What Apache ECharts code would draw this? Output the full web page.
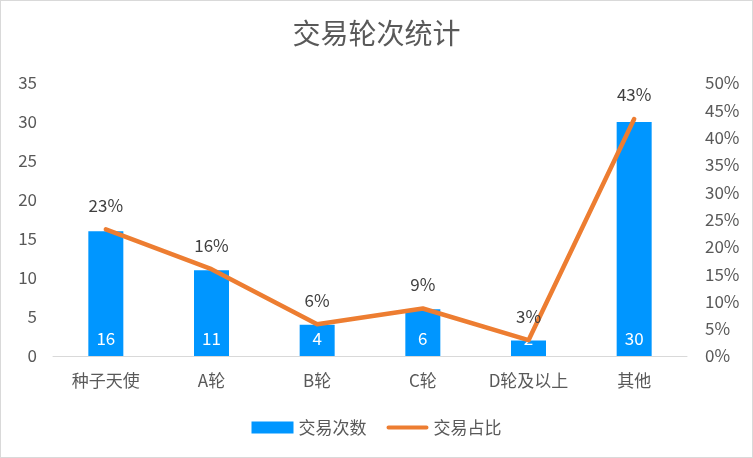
<!DOCTYPE html>
<html><head><meta charset="utf-8">
<script src="https://cdn.jsdelivr.net/npm/echarts@6/dist/echarts.min.js"></script>
<style>html,body{margin:0;padding:0;background:#fff}#c{width:753px;height:458px;box-sizing:border-box;border:1px solid #d9d9d9}</style>
</head><body><div id="c"></div>
<script>
var categories = ['种子天使','A轮','B轮','C轮','D轮及以上','其他'];
var counts = [16, 11, 4, 6, 2, 30];
var shares = [0.232, 0.159, 0.058, 0.087, 0.029, 0.434];
var leftTicks = {min:0, max:35, interval:5};
var rightTicks = {min:0, max:0.5, interval:0.05};

var font = '"Noto Sans CJK SC", "Microsoft YaHei", sans-serif';
var chart = echarts.init(document.getElementById('c'));
chart.setOption({
  animation:false,
  textStyle:{fontFamily:font},
  title:{text:'交易轮次统计', left:'center', top:13, textStyle:{fontFamily:font, fontSize:28, fontWeight:'normal', color:'#595959'}},
  grid:{left:52, right:65, top:82, bottom:101},
  legend:{bottom:16, left:'center', itemGap:20, itemWidth:42, itemHeight:12,
    textStyle:{fontFamily:font, fontSize:17, color:'#595959'},
    data:[{name:'交易次数', icon:'rect'},
          {name:'交易占比', icon:'path://M0,0L0.01,0L0.01,0.01Z M0,12L0.01,12L0.01,11.99Z M2,4L40,4A2,2 0 0 1 40,8L2,8A2,2 0 0 1 2,4Z'}]},
  xAxis:{type:'category', data:categories,
    axisLine:{lineStyle:{color:'#d9d9d9', width:1}}, axisTick:{show:false},
    axisLabel:{fontFamily:font, fontSize:17, color:'#595959', margin:16}},
  yAxis:[
    {type:'value', min:leftTicks.min, max:leftTicks.max, interval:leftTicks.interval, splitLine:{show:false},
     axisLabel:{fontFamily:font, fontSize:17, color:'#595959', margin:16}},
    {type:'value', min:rightTicks.min, max:rightTicks.max, interval:rightTicks.interval, splitLine:{show:false},
     axisLabel:{fontFamily:font, fontSize:17, color:'#595959', margin:18,
       formatter:function(v){return Math.round(v*100)+'%';}}}
  ],
  series:[
    {name:'交易次数', type:'bar', data:counts, barWidth:35, itemStyle:{color:'#0096FF'},
     label:{show:true, position:'insideBottom', distance:9, color:'#fff', fontSize:17, fontFamily:font}},
    {name:'交易占比', type:'line', yAxisIndex:1, data:shares, symbol:'circle', symbolSize:1, showSymbol:true, z:5,
     lineStyle:{color:'#ED7D31', width:4.5, cap:'round', join:'round'}, itemStyle:{color:'#ED7D31'},
     label:{show:true, position:'top', distance:15, color:'#404040', fontSize:17, fontFamily:font,
       formatter:function(p){return Math.round(p.value*100)+'%';}}}
  ]
});
</script></body></html>
